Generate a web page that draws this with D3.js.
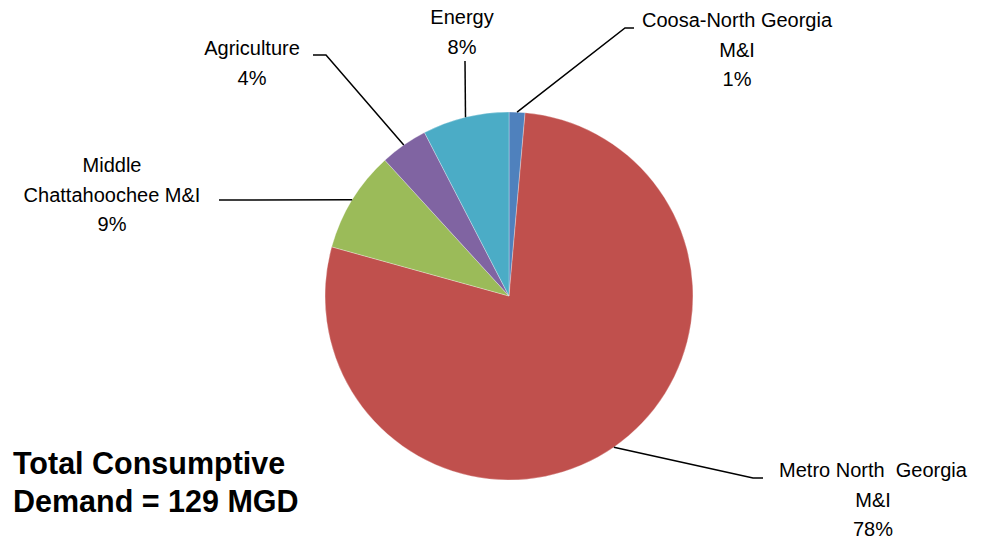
<!DOCTYPE html>
<html>
<head>
<meta charset="utf-8">
<script src="https://cdn.jsdelivr.net/npm/d3@7/dist/d3.min.js"></script>
<style>
  html, body { margin: 0; padding: 0; background: #fff; }
  svg { display: block; }
  text { font-family: "Liberation Sans", Arial, sans-serif; fill: #000; white-space: pre; }
</style>
</head>
<body>
<svg id="chart" width="981" height="539"></svg>
<script>
// Data (MGD)
const categories = ["Coosa-North Georgia M&I", "Metro North Georgia M&I", "Middle Chattahoochee M&I", "Agriculture", "Energy"];
const values = [1.8, 100.5, 11.5, 5.4, 9.8];
const colors = ["#4F81BD", "#C0504D", "#9BBB59", "#8064A2", "#4BACC6"];
const labelLines = [
  ["Coosa-North Georgia", "M&I"],
  ["Metro North  Georgia", "M&I"],
  ["Middle", "Chattahoochee M&I"],
  ["Agriculture"],
  ["Energy"]
];
const titleLines = ["Total Consumptive", "Demand = 129 MGD"];

// Layout (label anchor: center x, first baseline y; elbow point; horizontal end)
const layout = [
  { tx: 737, ty: 27, elbow: [625, 28], end: [634, 28] },
  { tx: 873, ty: 477, elbow: [753, 478], end: [763, 478] },
  { tx: 112, ty: 172, elbow: [219, 200], end: [219, 200] },
  { tx: 252, ty: 55, elbow: [326, 55], end: [313, 55] },
  { tx: 462, ty: 24, elbow: [465, 61], end: [465, 61] }
];

const svg = d3.select("#chart");
const cx = 509, cy = 296, r = 184;
const g = svg.append("g").attr("transform", `translate(${cx},${cy})`);

const pie = d3.pie().sort(null).value(d => d)(values);
const arc = d3.arc().innerRadius(0).outerRadius(r);
const total = d3.sum(values);

g.selectAll("path.slice").data(pie).join("path")
  .attr("class", "slice")
  .attr("d", arc)
  .attr("fill", (d, i) => colors[i])
  .attr("stroke", "rgba(255,255,255,0.5)")
  .attr("stroke-width", 0.6);

const lineH = 29.5;
pie.forEach((d, i) => {
  const a = (d.startAngle + d.endAngle) / 2;
  const px = cx + r * Math.sin(a), py = cy - r * Math.cos(a);
  const L = layout[i];
  svg.append("polyline")
    .attr("points", [[px, py], L.elbow, L.end].map(p => p.join(",")).join(" "))
    .attr("fill", "none").attr("stroke", "#000").attr("stroke-width", 1.5);
  const lines = labelLines[i].concat([Math.round(d.value / total * 100) + "%"]);
  const t = svg.append("text").attr("text-anchor", "middle").attr("font-size", 20);
  lines.forEach((s, k) => {
    t.append("tspan").attr("x", L.tx).attr("y", L.ty + k * lineH).text(s);
  });
});

const title = svg.append("text").attr("font-size", 30.5).attr("font-weight", "bold");
titleLines.forEach((s, k) => {
  title.append("tspan").attr("x", 13).attr("y", 474 + k * 38).text(s);
});
</script>
</body>
</html>
